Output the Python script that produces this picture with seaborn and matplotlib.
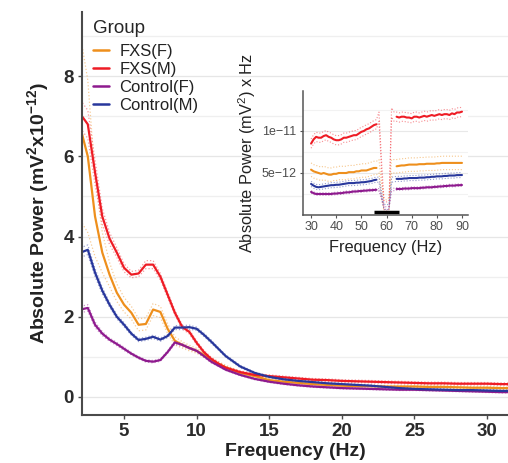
import numpy as np
import pandas as pd
import matplotlib
matplotlib.use("Agg")
import matplotlib.pyplot as plt
import seaborn as sns

# ---------------- data ----------------
groups = ["FXS(F)", "FXS(M)", "Control(F)", "Control(M)"]
colors = {"FXS(F)": "#EE8F1C", "FXS(M)": "#EE1C25",
          "Control(F)": "#8E1A8E", "Control(M)": "#28379C"}

# main spectrum, 2-32 Hz (units of 1e-12 mV^2)
freq = [2.0, 2.5, 3.0, 3.5, 4.0, 4.5, 5.0, 5.5, 6.0, 6.5, 7.0, 7.5, 8.0, 8.5,
        9.0, 9.5, 10.0, 10.5, 11.0, 11.5, 12.0,
        13, 14, 15, 16, 17, 18, 19, 20, 21, 22, 23, 24, 25, 26, 27, 28, 29,
        30, 31, 32]

fxs_f = [6.70, 6.00, 4.50, 3.60, 3.05, 2.60, 2.30, 2.10, 1.80, 1.82, 2.18,
         2.12, 1.70, 1.40, 1.30, 1.22, 1.15, 1.05, 0.93, 0.83, 0.74,
         0.60, 0.52, 0.42, 0.38, 0.35, 0.32, 0.30, 0.28, 0.27, 0.27, 0.26,
         0.26, 0.26, 0.25, 0.25, 0.24, 0.23, 0.23, 0.22, 0.22]
fxs_m = [7.05, 6.80, 5.60, 4.50, 3.95, 3.60, 3.22, 3.05, 3.08, 3.30, 3.30,
         3.00, 2.55, 2.10, 1.75, 1.62, 1.35, 1.12, 0.95, 0.83, 0.73,
         0.62, 0.55, 0.52, 0.49, 0.46, 0.43, 0.42, 0.40, 0.39, 0.38, 0.37,
         0.36, 0.35, 0.34, 0.34, 0.33, 0.33, 0.33, 0.32, 0.32]
ctl_f = [2.18, 2.22, 1.80, 1.58, 1.43, 1.32, 1.20, 1.08, 0.98, 0.90, 0.88,
         0.92, 1.12, 1.36, 1.30, 1.22, 1.15, 1.02, 0.88, 0.78, 0.68,
         0.55, 0.45, 0.38, 0.33, 0.29, 0.26, 0.24, 0.22, 0.21, 0.20, 0.19,
         0.18, 0.18, 0.17, 0.16, 0.15, 0.14, 0.13, 0.12, 0.12]
ctl_m = [3.60, 3.67, 3.10, 2.65, 2.30, 2.00, 1.80, 1.58, 1.42, 1.45, 1.50,
         1.43, 1.52, 1.73, 1.73, 1.74, 1.70, 1.55, 1.38, 1.20, 1.02,
         0.76, 0.60, 0.50, 0.44, 0.40, 0.37, 0.34, 0.32, 0.30, 0.28, 0.25,
         0.22, 0.20, 0.19, 0.18, 0.17, 0.17, 0.16, 0.15, 0.15]

# standard error of each group on the same grid
se_fxs_f = [2.30, 1.90, 1.00, 0.50, 0.30, 0.22, 0.18, 0.16, 0.15, 0.15, 0.15,
            0.14, 0.12, 0.10, 0.08, 0.07, 0.06, 0.06, 0.05, 0.05, 0.05,
            0.04, 0.04, 0.04, 0.04, 0.03, 0.03, 0.03, 0.03, 0.03, 0.03, 0.03,
            0.03, 0.03, 0.03, 0.03, 0.03, 0.03, 0.03, 0.03, 0.03]
se_fxs_m = [0.35, 0.35, 0.30, 0.20, 0.15, 0.12, 0.10, 0.08, 0.08, 0.10, 0.10,
            0.08, 0.07, 0.06, 0.05, 0.05, 0.05, 0.04, 0.04, 0.04, 0.03,
            0.03, 0.03, 0.03, 0.03, 0.03, 0.03, 0.03, 0.03, 0.03, 0.03, 0.03,
            0.03, 0.03, 0.03, 0.03, 0.03, 0.03, 0.03, 0.03, 0.03]
se_ctl_f = [0.08, 0.08, 0.07, 0.05, 0.04, 0.04, 0.04, 0.03, 0.03, 0.03, 0.03,
            0.03, 0.03, 0.04, 0.04, 0.03, 0.03, 0.03, 0.03, 0.02, 0.02,
            0.02, 0.02, 0.02, 0.02, 0.02, 0.02, 0.02, 0.02, 0.02, 0.02, 0.02,
            0.02, 0.02, 0.02, 0.02, 0.02, 0.02, 0.02, 0.02, 0.02]
se_ctl_m = [0.12, 0.12, 0.10, 0.08, 0.06, 0.05, 0.05, 0.04, 0.04, 0.04, 0.04,
            0.04, 0.04, 0.05, 0.05, 0.05, 0.04, 0.04, 0.04, 0.03, 0.03,
            0.03, 0.02, 0.02, 0.02, 0.02, 0.02, 0.02, 0.02, 0.02, 0.02, 0.02,
            0.02, 0.02, 0.02, 0.02, 0.02, 0.02, 0.02, 0.02, 0.02]

# gamma-band spectrum, 30-90 Hz (units of 1e-12 mV^2 x Hz)
gfreq = list(range(30, 91))
g_fxs_f = [5.4, 5.2, 5.1, 5.0, 4.9, 5.0, 4.9, 4.8, 4.8, 4.9, 4.9,
           5.0, 5.0, 5.0, 5.0, 5.1, 5.1, 5.1, 5.2, 5.2, 5.3,
           5.3, 5.3, 5.4, 5.5, 5.6, 5.6, 5.8, 3.0, 1.2, 1.0, 1.3, 5.8,
           5.8, 5.8, 5.85, 5.9, 5.9, 5.95, 6.0, 6.0, 6.0, 6.0, 6.05, 6.05,
           6.05, 6.1, 6.1, 6.1, 6.1, 6.15, 6.15, 6.2, 6.2, 6.2, 6.2,
           6.2, 6.2, 6.2, 6.2, 6.2]
g_fxs_m = [8.5, 9.0, 9.3, 9.2, 9.2, 9.4, 9.5, 9.3, 9.2, 9.0, 8.9,
           8.9, 9.0, 9.2, 9.2, 9.3, 9.4, 9.5, 9.5, 9.7, 9.9,
           10.0, 10.2, 10.3, 10.5, 10.7, 10.8, 11.7, 6.0, 1.2, 1.0, 1.2, 12.2,
           11.7, 11.7, 11.6, 11.7, 11.7, 11.6, 11.6, 11.5, 11.7, 11.7, 11.6, 11.7,
           11.8, 11.7, 11.8, 11.9, 11.8, 11.9, 12.0, 11.9, 12.0, 12.0, 11.9,
           12.1, 12.0, 12.2, 12.2, 12.3]
g_ctl_f = [2.75, 2.6, 2.5, 2.5, 2.5, 2.5, 2.5, 2.5, 2.5, 2.55, 2.55,
           2.6, 2.6, 2.65, 2.7, 2.7, 2.75, 2.8, 2.8, 2.85, 2.85,
           2.9, 2.9, 2.95, 2.95, 2.98, 3.0, 3.0, 2.0, 0.9, 0.8, 0.9, 3.0,
           3.05, 3.1, 3.1, 3.1, 3.15, 3.15, 3.15, 3.2, 3.2, 3.2, 3.2, 3.25,
           3.25, 3.3, 3.3, 3.3, 3.35, 3.35, 3.4, 3.4, 3.45, 3.45, 3.5,
           3.5, 3.5, 3.55, 3.55, 3.57]
g_ctl_m = [3.7, 3.5, 3.35, 3.3, 3.35, 3.4, 3.45, 3.5, 3.55, 3.55, 3.6,
           3.6, 3.65, 3.7, 3.75, 3.8, 3.8, 3.8, 3.85, 3.85, 3.9,
           3.9, 3.95, 4.0, 4.05, 4.15, 4.2, 4.2, 2.5, 1.0, 0.9, 1.0, 4.2,
           4.25, 4.3, 4.3, 4.3, 4.35, 4.35, 4.4, 4.4, 4.4, 4.4, 4.45, 4.45,
           4.45, 4.5, 4.5, 4.55, 4.55, 4.6, 4.6, 4.6, 4.65, 4.65, 4.7,
           4.7, 4.7, 4.75, 4.75, 4.76]
g_se = {"FXS(F)": 0.8, "FXS(M)": 0.55, "Control(F)": 0.15, "Control(M)": 0.3}
notch_band = (55, 65)          # line-noise band excluded from the means

main_vals = {"FXS(F)": fxs_f, "FXS(M)": fxs_m,
             "Control(F)": ctl_f, "Control(M)": ctl_m}
main_se = {"FXS(F)": se_fxs_f, "FXS(M)": se_fxs_m,
           "Control(F)": se_ctl_f, "Control(M)": se_ctl_m}
gamma_vals = {"FXS(F)": g_fxs_f, "FXS(M)": g_fxs_m,
              "Control(F)": g_ctl_f, "Control(M)": g_ctl_m}

rows = []
for g in groups:
    for f, v, s in zip(freq, main_vals[g], main_se[g]):
        rows.append({"Group": g, "Frequency": f, "Power": v,
                     "Upper": v + s, "Lower": v - s})
df = pd.DataFrame(rows)

grows = []
for g in groups:
    for f, v in zip(gfreq, gamma_vals[g]):
        inside = notch_band[0] + 1.5 < f < notch_band[1] - 1.5
        grows.append({"Group": g, "Frequency": f,
                      "Power": np.nan if inside else v * 1e-12,
                      "Upper": (v + g_se[g]) * 1e-12,
                      "Lower": (v - g_se[g]) * 1e-12})
gdf = pd.DataFrame(grows)

# ---------------- figure ----------------
sns.set_theme(style="white")
plt.rcParams["font.family"] = ["Liberation Sans", "DejaVu Sans"]
plt.rcParams["mathtext.fontset"] = "custom"
plt.rcParams["mathtext.rm"] = "Liberation Sans"
plt.rcParams["mathtext.bf"] = "Liberation Sans:bold"

fig = plt.figure(figsize=(5.08, 4.63), dpi=100)
ax = fig.add_axes([0.1614, 0.1037, 0.8386, 0.8703])

for y in np.arange(0, 10, 1):
    ax.axhline(y, color="#EFEFEF" if y % 2 else "#E6E6E6", lw=0.9, zorder=0)

for g in groups:
    sub = df[df.Group == g]
    for col in ("Upper", "Lower"):
        sns.lineplot(data=sub, x="Frequency", y=col, ax=ax, color=colors[g],
                     lw=0.9, ls=":", alpha=0.45, legend=False)
sns.lineplot(data=df, x="Frequency", y="Power", hue="Group",
             hue_order=groups, palette=colors, lw=1.6, ax=ax)

ax.set_xlim(2.1, 31.45)
ax.set_ylim(-0.45, 9.6)
ax.set_xticks([5, 10, 15, 20, 25, 30])
ax.set_yticks([0, 2, 4, 6, 8])
for s in ("top", "right"):
    ax.spines[s].set_visible(False)
for s in ("left", "bottom"):
    ax.spines[s].set_color("#4A4A4A")
    ax.spines[s].set_linewidth(1.5)
ax.tick_params(axis="both", which="major", length=3, width=1, color="#4A4A4A",
               labelsize=13.5, labelcolor="#2B2B2B", pad=3, bottom=True, left=True)
for lab in ax.get_xticklabels() + ax.get_yticklabels():
    lab.set_fontweight("bold")
ax.set_xlabel("Frequency (Hz)", fontsize=14, fontweight="bold", color="#222222",
              labelpad=2)
ax.set_ylabel(r"Absolute Power (mV$^{\mathbf{2}}$x10$^{\mathbf{-12}}$)",
              fontsize=14, fontweight="bold", color="#222222", labelpad=8)

leg = ax.legend(title="Group", loc="upper left", bbox_to_anchor=(0.006, 1.0),
                frameon=False, fontsize=12, title_fontsize=13.5,
                handlelength=0.95, handletextpad=0.65, labelspacing=0.18,
                borderpad=0.0, alignment="left")
leg._legend_box.sep = 4.5
for h in leg.get_lines():
    h.set_linewidth(1.8)
for t in leg.get_texts():
    t.set_color("#222222")

# ---------------- gamma-band inset ----------------
ins = fig.add_axes([0.5965, 0.5356, 0.3248, 0.2679])
ins.set_facecolor("white")
for y in (2.5e-12, 7.5e-12, 12.5e-12):
    ins.axhline(y, color="#F2F2F2", lw=0.8, zorder=0)
for y in (5e-12, 1e-11):
    ins.axhline(y, color="#E8E8E8", lw=0.8, zorder=0)

for g in groups:
    sub = gdf[gdf.Group == g]
    for col in ("Upper", "Lower"):
        sns.lineplot(data=sub, x="Frequency", y=col, ax=ins, color=colors[g],
                     lw=0.8, ls=":", alpha=0.5, legend=False)
for g in groups:
    sub = gdf[gdf.Group == g]
    ins.plot(sub.Frequency, sub.Power, color=colors[g], lw=1.5)

ins.plot(list(notch_band), [0.35e-12, 0.35e-12], color="black", lw=2.5,
         solid_capstyle="butt")

ins.set_xlim(26.8, 92.4)
ins.set_ylim(0, 1.476e-11)
ins.set_xticks([30, 40, 50, 60, 70, 80, 90])
ins.set_yticks([5e-12, 1e-11])
ins.set_yticklabels(["5e\u221212", "1e\u221211"])
for s in ("top", "right"):
    ins.spines[s].set_visible(False)
for s in ("left", "bottom"):
    ins.spines[s].set_color("#555555")
    ins.spines[s].set_linewidth(1.1)
ins.tick_params(axis="both", length=2.5, width=0.8, color="#555555",
                labelsize=9, labelcolor="#4D4D4D", pad=2, bottom=True, left=True)
ins.set_xlabel("Frequency (Hz)", fontsize=11.8, color="#222222", labelpad=5)
ins.set_ylabel("Absolute Power (mV$^2$) x Hz", fontsize=11.8, color="#222222",
               labelpad=3)

fig.savefig("out.png", dpi=100)
